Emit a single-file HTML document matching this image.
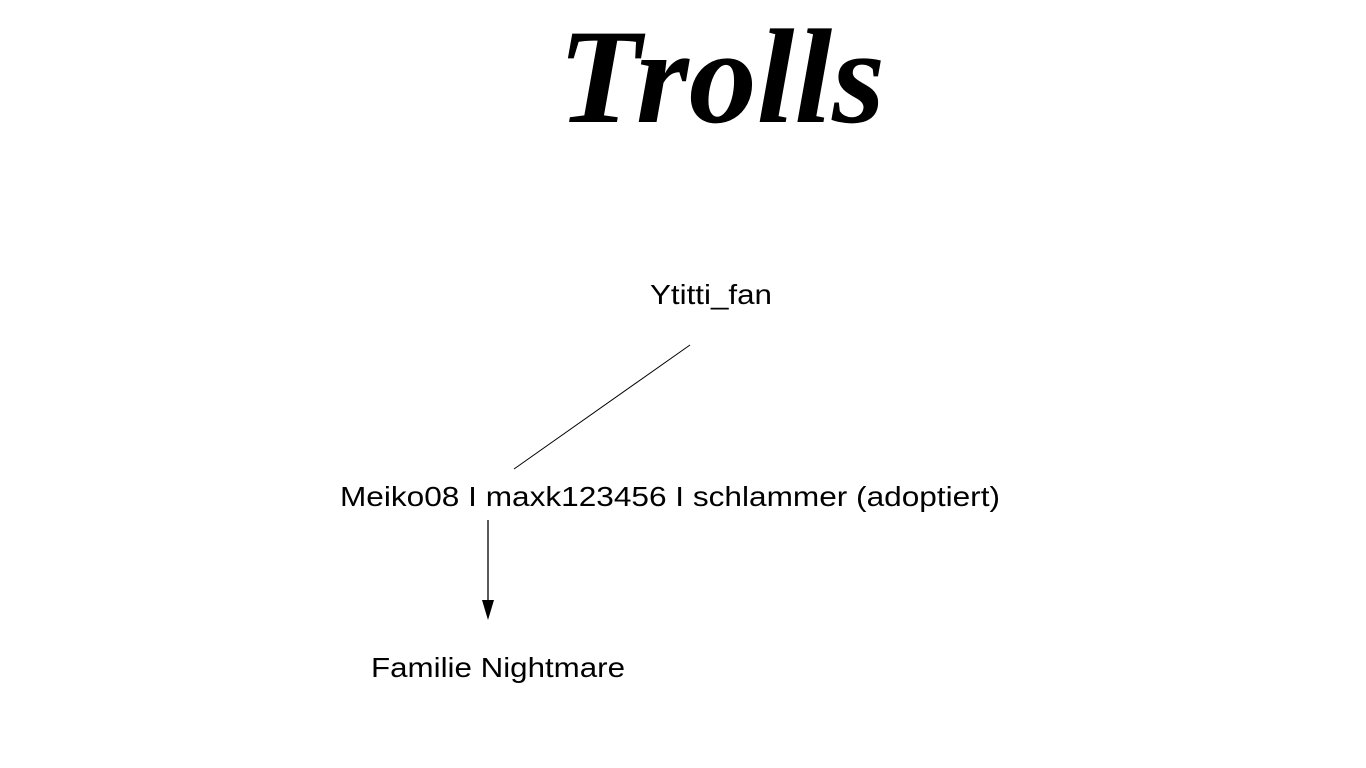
<!DOCTYPE html>
<html><head><meta charset="utf-8"><style>
html,body{margin:0;padding:0;background:#fff;width:1366px;height:768px;overflow:hidden}
</style></head><body>
<svg width="1366" height="768" viewBox="0 0 1366 768" xmlns="http://www.w3.org/2000/svg">
<text x="558" y="122" font-family="Liberation Serif, serif" font-style="italic" font-weight="bold" font-size="135" textLength="327" lengthAdjust="spacingAndGlyphs" fill="#000">Trolls</text>
<g font-family="Liberation Sans, Arial, sans-serif" font-size="28" fill="#000">
<text x="650" y="304" textLength="122" lengthAdjust="spacingAndGlyphs">Ytitti_fan</text>
<text x="340" y="506" textLength="660" lengthAdjust="spacingAndGlyphs">Meiko08 I maxk123456 I schlammer (adoptiert)</text>
<text x="371" y="677" textLength="254" lengthAdjust="spacingAndGlyphs">Familie Nightmare</text>
</g>
<line x1="690" y1="345" x2="514" y2="469" stroke="#000" stroke-width="1"/>
<line x1="488" y1="520" x2="488" y2="602" stroke="#000" stroke-width="1.3"/>
<polygon points="482,600 494,600 488,620" fill="#000"/>
</svg>
</body></html>
